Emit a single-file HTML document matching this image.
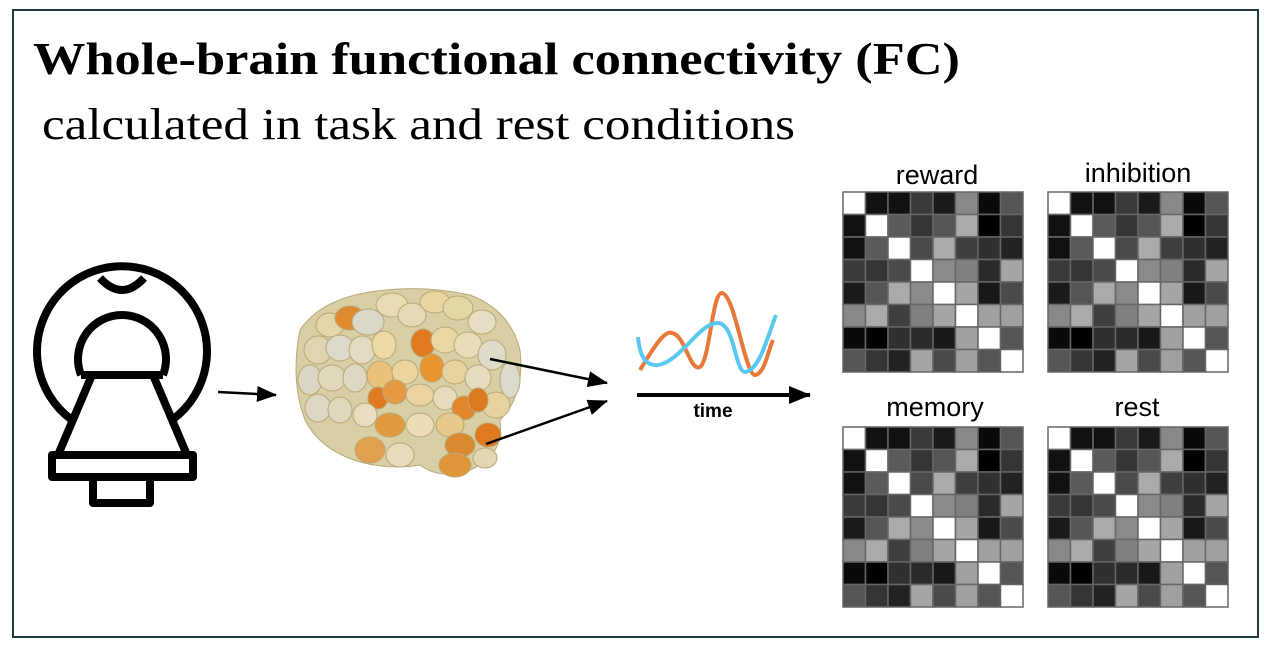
<!DOCTYPE html>
<html><head><meta charset="utf-8"><style>html,body{margin:0;padding:0;background:#fff}svg{display:block}</style></head>
<body>
<svg width="1271" height="650" viewBox="0 0 1271 650" xmlns="http://www.w3.org/2000/svg">
<defs>
<marker id="ah2" markerWidth="20" markerHeight="16" refX="19" refY="8" orient="auto" markerUnits="userSpaceOnUse"><path d="M0,0 L20,8 L0,16 Z" fill="#000"/></marker>
<marker id="ah3" markerWidth="22" markerHeight="18" refX="21" refY="9" orient="auto" markerUnits="userSpaceOnUse"><path d="M0,0 L22,9 L0,18 Z" fill="#000"/></marker>
<g id="mat" stroke="#666" stroke-width="1.5">
<rect x="0" y="0" width="22.5" height="22.5" fill="#fff"/><rect x="22.5" y="0" width="22.5" height="22.5" fill="#111"/><rect x="45" y="0" width="22.5" height="22.5" fill="#111"/><rect x="67.5" y="0" width="22.5" height="22.5" fill="#3a3a3a"/><rect x="90" y="0" width="22.5" height="22.5" fill="#1a1a1a"/><rect x="112.5" y="0" width="22.5" height="22.5" fill="#888"/><rect x="135" y="0" width="22.5" height="22.5" fill="#0a0a0a"/><rect x="157.5" y="0" width="22.5" height="22.5" fill="#555"/>
<rect x="0" y="22.5" width="22.5" height="22.5" fill="#111"/><rect x="22.5" y="22.5" width="22.5" height="22.5" fill="#fff"/><rect x="45" y="22.5" width="22.5" height="22.5" fill="#5a5a5a"/><rect x="67.5" y="22.5" width="22.5" height="22.5" fill="#353535"/><rect x="90" y="22.5" width="22.5" height="22.5" fill="#555"/><rect x="112.5" y="22.5" width="22.5" height="22.5" fill="#aaa"/><rect x="135" y="22.5" width="22.5" height="22.5" fill="#000"/><rect x="157.5" y="22.5" width="22.5" height="22.5" fill="#353535"/>
<rect x="0" y="45" width="22.5" height="22.5" fill="#111"/><rect x="22.5" y="45" width="22.5" height="22.5" fill="#5a5a5a"/><rect x="45" y="45" width="22.5" height="22.5" fill="#fff"/><rect x="67.5" y="45" width="22.5" height="22.5" fill="#4a4a4a"/><rect x="90" y="45" width="22.5" height="22.5" fill="#aaa"/><rect x="112.5" y="45" width="22.5" height="22.5" fill="#3f3f3f"/><rect x="135" y="45" width="22.5" height="22.5" fill="#303030"/><rect x="157.5" y="45" width="22.5" height="22.5" fill="#222"/>
<rect x="0" y="67.5" width="22.5" height="22.5" fill="#3a3a3a"/><rect x="22.5" y="67.5" width="22.5" height="22.5" fill="#353535"/><rect x="45" y="67.5" width="22.5" height="22.5" fill="#4a4a4a"/><rect x="67.5" y="67.5" width="22.5" height="22.5" fill="#fff"/><rect x="90" y="67.5" width="22.5" height="22.5" fill="#8a8a8a"/><rect x="112.5" y="67.5" width="22.5" height="22.5" fill="#808080"/><rect x="135" y="67.5" width="22.5" height="22.5" fill="#2a2a2a"/><rect x="157.5" y="67.5" width="22.5" height="22.5" fill="#a5a5a5"/>
<rect x="0" y="90" width="22.5" height="22.5" fill="#1a1a1a"/><rect x="22.5" y="90" width="22.5" height="22.5" fill="#555"/><rect x="45" y="90" width="22.5" height="22.5" fill="#aaa"/><rect x="67.5" y="90" width="22.5" height="22.5" fill="#8a8a8a"/><rect x="90" y="90" width="22.5" height="22.5" fill="#fff"/><rect x="112.5" y="90" width="22.5" height="22.5" fill="#a5a5a5"/><rect x="135" y="90" width="22.5" height="22.5" fill="#181818"/><rect x="157.5" y="90" width="22.5" height="22.5" fill="#4a4a4a"/>
<rect x="0" y="112.5" width="22.5" height="22.5" fill="#888"/><rect x="22.5" y="112.5" width="22.5" height="22.5" fill="#aaa"/><rect x="45" y="112.5" width="22.5" height="22.5" fill="#3f3f3f"/><rect x="67.5" y="112.5" width="22.5" height="22.5" fill="#808080"/><rect x="90" y="112.5" width="22.5" height="22.5" fill="#a5a5a5"/><rect x="112.5" y="112.5" width="22.5" height="22.5" fill="#fff"/><rect x="135" y="112.5" width="22.5" height="22.5" fill="#a0a0a0"/><rect x="157.5" y="112.5" width="22.5" height="22.5" fill="#a0a0a0"/>
<rect x="0" y="135" width="22.5" height="22.5" fill="#0a0a0a"/><rect x="22.5" y="135" width="22.5" height="22.5" fill="#000"/><rect x="45" y="135" width="22.5" height="22.5" fill="#303030"/><rect x="67.5" y="135" width="22.5" height="22.5" fill="#2a2a2a"/><rect x="90" y="135" width="22.5" height="22.5" fill="#181818"/><rect x="112.5" y="135" width="22.5" height="22.5" fill="#a0a0a0"/><rect x="135" y="135" width="22.5" height="22.5" fill="#fff"/><rect x="157.5" y="135" width="22.5" height="22.5" fill="#555"/>
<rect x="0" y="157.5" width="22.5" height="22.5" fill="#555"/><rect x="22.5" y="157.5" width="22.5" height="22.5" fill="#353535"/><rect x="45" y="157.5" width="22.5" height="22.5" fill="#222"/><rect x="67.5" y="157.5" width="22.5" height="22.5" fill="#a5a5a5"/><rect x="90" y="157.5" width="22.5" height="22.5" fill="#4a4a4a"/><rect x="112.5" y="157.5" width="22.5" height="22.5" fill="#a0a0a0"/><rect x="135" y="157.5" width="22.5" height="22.5" fill="#555"/><rect x="157.5" y="157.5" width="22.5" height="22.5" fill="#fff"/>
</g>
</defs>

<rect x="13" y="10" width="1245" height="627" fill="#fff" stroke="#1f3a40" stroke-width="2"/>

<text x="33" y="74" font-family="Liberation Serif, serif" font-weight="bold" font-size="46" textLength="927" lengthAdjust="spacingAndGlyphs">Whole-brain functional connectivity (FC)</text>
<text x="42" y="139" font-family="Liberation Serif, serif" font-size="44" textLength="753" lengthAdjust="spacingAndGlyphs">calculated in task and rest conditions</text>

<!-- scanner -->
<g fill="none" stroke="#000" stroke-width="8" stroke-linejoin="round">
<path d="M72,420 A85,85 0 1,1 172,420"/>
<path d="M100,278 Q122,302 144,278"/>
<path d="M81,375 A44,44 0 1,1 163,375"/>
<path d="M81,375 L163,375"/>
<path d="M92,375 L153,375 L187,455 L58,455 Z"/>
<rect x="52" y="455" width="141" height="22"/>
<rect x="93" y="477" width="57" height="26"/>
</g>
<line x1="218" y1="392" x2="276" y2="395" stroke="#000" stroke-width="2.5" marker-end="url(#ah2)"/>

<!-- brain -->
<g stroke="#b9a878" stroke-width="1">
<path d="M300,330 Q320,300 370,292 Q420,284 470,295 Q510,310 520,350 Q525,395 500,420 Q505,455 470,470 Q440,480 420,465 Q390,470 360,462 Q320,450 305,420 Q290,380 300,330 Z" fill="#d9cfa5"/>
<ellipse cx="330" cy="325" rx="14" ry="12" fill="#e4d6a8"/><ellipse cx="350" cy="318" rx="15" ry="12" fill="#e08a30"/>
<ellipse cx="368" cy="322" rx="16" ry="13" fill="#d9d8c9"/><ellipse cx="392" cy="305" rx="16" ry="12" fill="#e9dcb2"/>
<ellipse cx="412" cy="315" rx="14" ry="12" fill="#e6d9b5"/><ellipse cx="435" cy="302" rx="15" ry="11" fill="#e7d6a0"/>
<ellipse cx="458" cy="308" rx="15" ry="12" fill="#e3d7a8"/><ellipse cx="482" cy="322" rx="14" ry="12" fill="#e6dfc5"/>
<ellipse cx="318" cy="350" rx="14" ry="14" fill="#e0d5b0"/><ellipse cx="340" cy="348" rx="14" ry="13" fill="#dcdbcb"/>
<ellipse cx="362" cy="350" rx="13" ry="14" fill="#e3dcc2"/><ellipse cx="384" cy="345" rx="12" ry="14" fill="#ecd9a4"/>
<ellipse cx="423" cy="343" rx="12" ry="14" fill="#e07a20"/><ellipse cx="445" cy="340" rx="14" ry="13" fill="#ead8a2"/>
<ellipse cx="468" cy="345" rx="14" ry="13" fill="#e7dcb6"/><ellipse cx="492" cy="355" rx="14" ry="15" fill="#dedcc9"/>
<ellipse cx="510" cy="380" rx="10" ry="18" fill="#dcdacc"/>
<ellipse cx="310" cy="380" rx="12" ry="15" fill="#dad7c4"/><ellipse cx="332" cy="378" rx="14" ry="13" fill="#e2d9bb"/>
<ellipse cx="355" cy="378" rx="12" ry="14" fill="#ddd8c2"/><ellipse cx="380" cy="375" rx="13" ry="14" fill="#e8c27a"/>
<ellipse cx="405" cy="372" rx="13" ry="12" fill="#ecd6a0"/><ellipse cx="432" cy="368" rx="12" ry="14" fill="#e8962e"/>
<ellipse cx="455" cy="372" rx="13" ry="12" fill="#e7d3a0"/><ellipse cx="478" cy="378" rx="13" ry="13" fill="#e4dcbf"/>
<ellipse cx="496" cy="405" rx="14" ry="13" fill="#e6d3a0"/>
<ellipse cx="318" cy="408" rx="13" ry="14" fill="#dcd8c4"/><ellipse cx="340" cy="410" rx="12" ry="13" fill="#dfd8bd"/>
<ellipse cx="378" cy="398" rx="10" ry="11" fill="#e07a22"/><ellipse cx="395" cy="392" rx="12" ry="12" fill="#e49a42"/>
<ellipse cx="420" cy="395" rx="14" ry="11" fill="#ebd3a0"/><ellipse cx="445" cy="398" rx="12" ry="12" fill="#e6dbbc"/>
<ellipse cx="464" cy="408" rx="12" ry="12" fill="#e0862c"/><ellipse cx="478" cy="400" rx="10" ry="12" fill="#dd7a20"/>
<ellipse cx="365" cy="415" rx="12" ry="12" fill="#e8ddc0"/><ellipse cx="390" cy="425" rx="15" ry="12" fill="#e29a3e"/>
<ellipse cx="420" cy="425" rx="14" ry="12" fill="#ecdcb4"/><ellipse cx="450" cy="425" rx="14" ry="12" fill="#e7c98a"/>
<ellipse cx="370" cy="450" rx="15" ry="13" fill="#e0a050"/><ellipse cx="400" cy="455" rx="14" ry="12" fill="#e8dcbc"/>
<ellipse cx="460" cy="445" rx="15" ry="12" fill="#d9892e"/><ellipse cx="488" cy="435" rx="13" ry="12" fill="#e07a22"/>
<ellipse cx="455" cy="465" rx="16" ry="12" fill="#e29538"/><ellipse cx="485" cy="458" rx="12" ry="10" fill="#e2d7b0"/>
</g>
<line x1="490" y1="359" x2="607" y2="383" stroke="#000" stroke-width="2.5" marker-end="url(#ah2)"/>
<line x1="486" y1="444" x2="607" y2="401" stroke="#000" stroke-width="2.5" marker-end="url(#ah2)"/>

<!-- time series -->
<path d="M640,370 C655,345 665,330 672,333 C685,335 690,372 700,367 C710,360 712,292 722,293 C735,295 745,375 755,375 C765,374 768,350 773,340" fill="none" stroke="#e87838" stroke-width="4"/>
<path d="M638,337 C640,360 648,366 658,365 C680,362 700,322 718,323 C735,324 735,372 745,372 C760,370 768,335 776,315" fill="none" stroke="#5bc8ef" stroke-width="4"/>
<line x1="637" y1="395" x2="810" y2="395" stroke="#000" stroke-width="4" marker-end="url(#ah3)"/>
<text x="713" y="417" text-anchor="middle" font-family="Liberation Sans, sans-serif" font-weight="bold" font-size="19">time</text>

<!-- matrices -->
<text x="937" y="184" text-anchor="middle" font-family="Liberation Sans, sans-serif" font-size="27">reward</text>
<text x="1138" y="182" text-anchor="middle" font-family="Liberation Sans, sans-serif" font-size="27">inhibition</text>
<text x="935" y="416" text-anchor="middle" font-family="Liberation Sans, sans-serif" font-size="27">memory</text>
<text x="1137" y="416" text-anchor="middle" font-family="Liberation Sans, sans-serif" font-size="27">rest</text>
<use href="#mat" x="843" y="192"/>
<use href="#mat" x="1048" y="192"/>
<use href="#mat" x="843" y="427"/>
<use href="#mat" x="1048" y="427"/>
</svg>
</body></html>
